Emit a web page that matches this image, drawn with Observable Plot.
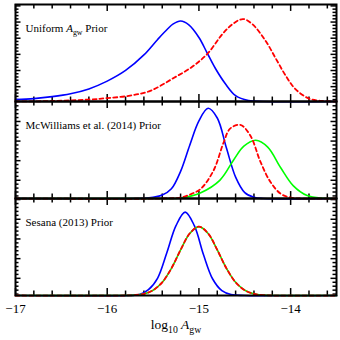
<!DOCTYPE html>
<html>
<head>
<meta charset="utf-8">
<script src="https://cdn.jsdelivr.net/npm/d3@7"></script>
<script src="https://cdn.jsdelivr.net/npm/@observablehq/plot@0.6"></script>
<style>
  html, body { margin: 0; padding: 0; background: #fff; }
</style>
</head>
<body>
<div id="chart"></div>
<script>
// ---- panels & labels ----
const panels = ["Uniform", "McWilliams", "Sesana"];
const panelLabels = ["Uniform Agw Prior", "McWilliams et al. (2014) Prior", "Sesana (2013) Prior"];
const axisLabel = "log10 Agw";

// ---- x ticks ----
const xMajorTicks = [-17, -16, -15, -14];
const xMinorTicks = [-16.8, -16.6, -16.4, -16.2, -15.8, -15.6, -15.4, -15.2, -14.8, -14.6, -14.4, -14.2, -13.8, -13.6];

// ---- y ticks (unlabelled), per panel: first major tick and major spacing (fraction of panel) ----
const yTickStart = [0.153, 0.188, 0.177];
const yTickStep = [0.1665, 0.202, 0.203];

// ---- curves ----
const uniformBlueX = [-17, -16.8, -16.6, -16.4, -16.2, -16.0, -15.8, -15.6, -15.45, -15.34, -15.28, -15.2, -15.11, -15.0, -14.91, -14.82, -14.71, -14.6, -14.46, -14.3, -13.5];
const uniformBlueY = [0.02, 0.03, 0.05, 0.08, 0.13, 0.21, 0.32, 0.48, 0.64, 0.75, 0.8, 0.83, 0.79, 0.66, 0.5, 0.34, 0.18, 0.06, 0.01, 0, 0];
const uniformRedX = [-17, -16.6, -16.2, -16.0, -15.75, -15.53, -15.28, -15.07, -14.9, -14.74, -14.63, -14.52, -14.42, -14.27, -14.16, -14.05, -13.95, -13.8, -13.65, -13.5];
const uniformRedY = [0, 0.005, 0.02, 0.035, 0.06, 0.11, 0.24, 0.36, 0.5, 0.7, 0.8, 0.85, 0.8, 0.62, 0.44, 0.26, 0.13, 0.03, 0.005, 0];

const mcwBlueX = [-17, -15.6, -15.5, -15.4, -15.3, -15.2, -15.1, -15.0, -14.9, -14.8, -14.7, -14.6, -14.5, -14.4, -14.3, -13.5];
const mcwBlueY = [0, 0.003, 0.012, 0.035, 0.1, 0.28, 0.55, 0.8, 0.93, 0.83, 0.52, 0.22, 0.06, 0.012, 0, 0];
const mcwRedX = [-17, -15.4, -15.2, -15.1, -14.98, -14.84, -14.73, -14.66, -14.55, -14.44, -14.33, -14.22, -14.11, -14.0, -13.9, -13.5];
const mcwRedY = [0, 0, 0.01, 0.04, 0.1, 0.29, 0.58, 0.72, 0.76, 0.65, 0.38, 0.17, 0.05, 0.01, 0, 0];
const mcwGreenX = [-17, -15.4, -15.2, -14.98, -14.77, -14.62, -14.51, -14.38, -14.25, -14.11, -13.97, -13.82, -13.64, -13.5];
const mcwGreenY = [0, 0, 0.005, 0.06, 0.19, 0.4, 0.54, 0.6, 0.53, 0.32, 0.13, 0.03, 0.003, 0];

const sesBlueX = [-17, -15.75, -15.65, -15.55, -15.45, -15.35, -15.25, -15.15, -15.05, -14.95, -14.85, -14.75, -14.65, -14.5, -13.5];
const sesBlueY = [0, 0, 0.01, 0.06, 0.18, 0.44, 0.72, 0.86, 0.72, 0.42, 0.17, 0.05, 0.01, 0, 0];
const sesRedX = [-17, -15.8, -15.7, -15.6, -15.5, -15.4, -15.3, -15.2, -15.1, -15.0, -14.9, -14.8, -14.7, -14.6, -14.5, -14.4, -14.3, -14.2, -13.5];
const sesRedY = [0, 0, 0.004, 0.017, 0.054, 0.136, 0.28, 0.47, 0.64, 0.71, 0.64, 0.47, 0.28, 0.136, 0.054, 0.017, 0.004, 0, 0];
const sesGreenX = sesRedX;
const sesGreenY = sesRedY;

// ---- layout ----
const W = 340, H = 340, mTop = 3, mBottom = 44, mLeft = 15, mRight = 4;
const xDomain = [-17, -13.5];
const panelPx = (H - mTop - mBottom) / panels.length;      // pixel height of one panel
const xUnitPx = (W - mLeft - mRight) / (xDomain[1] - xDomain[0]); // pixels per x unit
const xMajLen = 7 / panelPx, xMinLen = 4.5 / panelPx;      // tick lengths in y units
const yMajLen = 5.5 / xUnitPx, yMinLen = 3.5 / xUnitPx;    // tick lengths in x units

// ---- build tables ----
function rows(panel, series, xs, ys) {
  return xs.map((x, i) => ({panel, series, x, y: ys[i]}));
}
const blue = [
  ...rows("Uniform", "blue", uniformBlueX, uniformBlueY),
  ...rows("McWilliams", "blue", mcwBlueX, mcwBlueY),
  ...rows("Sesana", "blue", sesBlueX, sesBlueY)
];
const red = [
  ...rows("Uniform", "red", uniformRedX, uniformRedY),
  ...rows("McWilliams", "red", mcwRedX, mcwRedY),
  ...rows("Sesana", "red", sesRedX, sesRedY)
];
const green = [
  ...rows("McWilliams", "green", mcwGreenX, mcwGreenY),
  ...rows("Sesana", "green", sesGreenX, sesGreenY)
];

const yMajor = [], yMinor = [];
panels.forEach((panel, p) => {
  for (let k = -2; k < 8; k++) {
    const m = yTickStart[p] + k * yTickStep[p];
    if (m > 0.005 && m < 0.995) yMajor.push({panel, y: m});
    for (let j = 1; j < 5; j++) {
      const n = m + j * yTickStep[p] / 5;
      if (n > 0.005 && n < 0.995) yMinor.push({panel, y: n});
    }
  }
});

const labelRows = panels.map((panel, i) => ({panel, label: panelLabels[i]}));
const axisLabelRows = [{panel: "Sesana", label: axisLabel}];

const tickStyle = {stroke: "black", strokeWidth: 1.5};

const chart = Plot.plot({
  width: W,
  height: H,
  marginTop: mTop,
  marginBottom: mBottom,
  marginLeft: mLeft,
  marginRight: mRight,
  style: {fontFamily: "'Liberation Serif', 'Times New Roman', serif", fontSize: "13px", background: "white", color: "black"},
  x: {domain: xDomain, ticks: xMajorTicks, tickSize: 0, tickPadding: 8, tickFormat: d3.format("d"), label: null},
  y: {domain: [0, 1], axis: null},
  fy: {domain: panels, axis: null, padding: 0},
  marks: [
    // x ticks: bottom (upwards) and top (downwards) of each panel
    Plot.ruleX(xMajorTicks, {x: d => d, y1: 0, y2: xMajLen, ...tickStyle}),
    Plot.ruleX(xMinorTicks, {x: d => d, y1: 0, y2: xMinLen, ...tickStyle}),
    Plot.ruleX(xMajorTicks, {x: d => d, y1: 1 - xMajLen, y2: 1, ...tickStyle}),
    Plot.ruleX(xMinorTicks, {x: d => d, y1: 1 - xMinLen, y2: 1, ...tickStyle}),
    // y ticks: left and right
    Plot.ruleY(yMajor, {y: "y", fy: "panel", x1: xDomain[0], x2: xDomain[0] + yMajLen, ...tickStyle}),
    Plot.ruleY(yMinor, {y: "y", fy: "panel", x1: xDomain[0], x2: xDomain[0] + yMinLen, ...tickStyle}),
    Plot.ruleY(yMajor, {y: "y", fy: "panel", x1: xDomain[1] - yMajLen, x2: xDomain[1], ...tickStyle}),
    Plot.ruleY(yMinor, {y: "y", fy: "panel", x1: xDomain[1] - yMinLen, x2: xDomain[1], ...tickStyle}),
    // curves
    Plot.line(blue, {x: "x", y: "y", fy: "panel", z: "panel", stroke: "#0000ff", strokeWidth: 1.6, curve: "catmull-rom"}),
    Plot.line(green, {x: "x", y: "y", fy: "panel", z: "panel", stroke: "#00ff00", strokeWidth: 1.6, curve: "catmull-rom"}),
    Plot.line(red, {x: "x", y: "y", fy: "panel", z: "panel", stroke: "#ff0000", strokeWidth: 1.8, strokeDasharray: "4,3", curve: "catmull-rom"}),
    // frame
    Plot.frame({stroke: "black", strokeWidth: 2}),
    // panel labels
    Plot.text(labelRows, {fy: "panel", text: "label", frameAnchor: "top-left", dx: 10, dy: 23.5, lineAnchor: "middle", textAnchor: "start", fontSize: 11, fill: "black"}),
    // x axis label
    Plot.text(axisLabelRows, {fy: "panel", text: "label", frameAnchor: "bottom", dy: 29, lineAnchor: "middle", fontSize: 13.5, fill: "black"})
  ]
});

document.getElementById("chart").appendChild(chart);

// rich text: italic A with subscript "gw", subscript "10"
function setRich(el, parts, size) {
  const sel = d3.select(el);
  sel.text(null);
  let shift = 0;
  for (const p of parts) {
    const ts = sel.append("tspan").text(p.t);
    if (p.i) ts.attr("font-style", "italic");
    if (p.sub) {
      ts.attr("font-size", size * 0.72);
      const d = size * 0.28;
      ts.attr("dy", d - shift);
      shift = d;
    } else if (shift) {
      ts.attr("dy", -shift);
      shift = 0;
    }
  }
}
chart.querySelectorAll("text").forEach(el => {
  const t = el.textContent;
  if (t === panelLabels[0]) {
    setRich(el, [{t: "Uniform "}, {t: "A", i: true}, {t: "gw", sub: true}, {t: " Prior"}], 11);
  } else if (t === axisLabel) {
    setRich(el, [{t: "log"}, {t: "10", sub: true}, {t: " "}, {t: "A", i: true}, {t: "gw", sub: true}], 13.5);
  }
});
</script>
</body>
</html>
